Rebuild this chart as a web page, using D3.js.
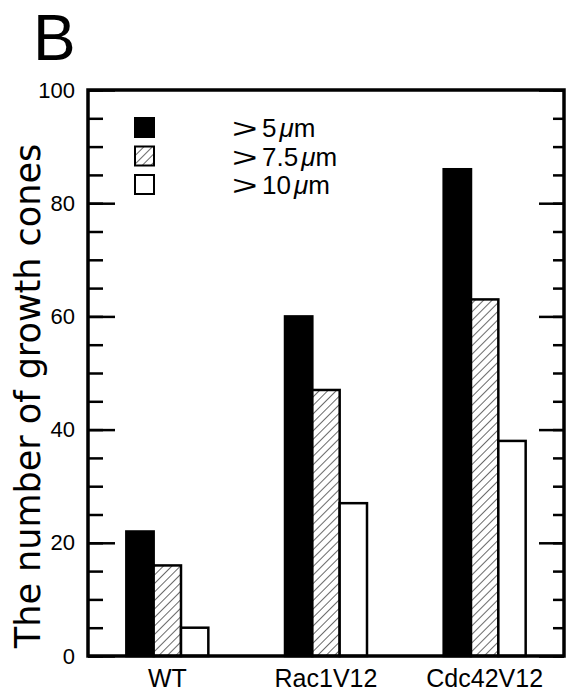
<!DOCTYPE html>
<html>
<head>
<meta charset="utf-8">
<script src="https://cdn.jsdelivr.net/npm/d3@7"></script>
<style>
  body { margin: 0; background: #fff; }
  text { font-family: "Liberation Sans", Arial, sans-serif; fill: #000; }
</style>
</head>
<body>
<script>
(function(){

    //chart data
    var groups = ["WT", "Rac1V12", "Cdc42V12"];
    var seriesKeys = ["gt5", "gt7_5", "gt10"];
    var seriesLabels = ["5", "7.5", "10"];
    var gt5 = [22, 60, 86];
    var gt7_5 = [16, 47, 63];
    var gt10 = [5, 27, 38];
    var majorTicks = [0, 20, 40, 60, 80, 100];

    //frame dimensions
    var width = 567,
        height = 696,
        left = 88,
        right = 564,
        top = 90,
        bottom = 656;

    var svg = d3.select("body")
        .append("svg")
        .attr("width", width)
        .attr("height", height);

    //hatch pattern for the middle series
    var defs = svg.append("defs");
    var pat = defs.append("pattern")
        .attr("id", "hatch")
        .attr("patternUnits", "userSpaceOnUse")
        .attr("width", 6)
        .attr("height", 6)
        .attr("patternTransform", "rotate(45)");
    pat.append("rect").attr("width", 6).attr("height", 6).attr("fill", "#fff");
    pat.append("line")
        .attr("x1", 0).attr("y1", 0).attr("x2", 0).attr("y2", 6)
        .attr("stroke", "#444")
        .attr("stroke-width", 1.6);

    var fills = {gt5: "#000", gt7_5: "url(#hatch)", gt10: "#fff"};

    var rows = groups.map(function(g, i){
        return {group: g, gt5: gt5[i], gt7_5: gt7_5[i], gt10: gt10[i]};
    });

    //scales
    var yScale = d3.scaleLinear()
        .domain([0, 100])
        .range([bottom, top]);

    var x0 = d3.scaleBand()
        .domain(groups)
        .range([left, right])
        .padding(0);

    var x1 = d3.scaleBand()
        .domain(seriesKeys)
        .range([0, 82]);

    //bars
    var grp = svg.selectAll(".group")
        .data(rows)
        .enter()
        .append("g")
        .attr("class", "group")
        .attr("transform", function(d){
            return "translate(" + (x0(d.group) + x0.bandwidth() / 2 - 41) + ",0)";
        });

    grp.selectAll("rect")
        .data(function(d){
            return seriesKeys.map(function(k){ return {key: k, value: d[k]}; });
        })
        .enter()
        .append("rect")
        .attr("x", function(d){ return x1(d.key); })
        .attr("width", x1.bandwidth())
        .attr("y", function(d){ return yScale(d.value); })
        .attr("height", function(d){ return bottom - yScale(d.value); })
        .attr("fill", function(d){ return fills[d.key]; })
        .attr("stroke", "#000")
        .attr("stroke-width", 2.5);

    //left axis, minor then major ticks pointing inward
    svg.append("g")
        .attr("transform", "translate(" + left + ",0)")
        .call(d3.axisLeft(yScale).tickValues(d3.range(0, 101, 5)).tickSize(-15).tickFormat(""))
        .call(function(g){ g.select(".domain").remove(); })
        .selectAll("line").attr("stroke-width", 2.5);

    var yLeft = svg.append("g")
        .attr("transform", "translate(" + left + ",0)")
        .call(d3.axisLeft(yScale).tickValues(majorTicks).tickSize(-27).tickPadding(13));
    yLeft.select(".domain").remove();
    yLeft.selectAll("line").attr("stroke-width", 2.5);
    yLeft.selectAll("text")
        .style("font-size", "22px")
        .attr("fill", "#000");

    //right axis ticks
    svg.append("g")
        .attr("transform", "translate(" + right + ",0)")
        .call(d3.axisRight(yScale).tickValues(d3.range(0, 101, 5)).tickSize(-11).tickFormat(""))
        .call(function(g){ g.select(".domain").remove(); })
        .selectAll("line").attr("stroke-width", 2.5);

    svg.append("g")
        .attr("transform", "translate(" + right + ",0)")
        .call(d3.axisRight(yScale).tickValues(majorTicks).tickSize(-25).tickFormat(""))
        .call(function(g){ g.select(".domain").remove(); })
        .selectAll("line").attr("stroke-width", 2.5);

    //frame
    svg.append("rect")
        .attr("x", left)
        .attr("y", top)
        .attr("width", right - left)
        .attr("height", bottom - top)
        .attr("fill", "none")
        .attr("stroke", "#000")
        .attr("stroke-width", 3.5);

    //x labels
    svg.selectAll(".xlabel")
        .data(groups)
        .enter()
        .append("text")
        .attr("class", "xlabel")
        .attr("x", function(d){ return x0(d) + x0.bandwidth() / 2; })
        .attr("y", 687)
        .attr("text-anchor", "middle")
        .style("font-size", "25px")
        .text(function(d){ return d; });

    //y title
    svg.append("text")
        .attr("transform", "translate(40," + 396 + ") rotate(-90)")
        .attr("text-anchor", "middle")
        .style("font-family", "'DejaVu Sans', sans-serif")
        .style("font-size", "35px")
        .text("The number of growth cones");

    //panel letter
    svg.append("text")
        .attr("x", 33)
        .attr("y", 60)
        .style("font-size", "64px")
        .text("B");

    //legend
    var legend = svg.selectAll(".legend")
        .data(seriesKeys)
        .enter()
        .append("g")
        .attr("class", "legend")
        .attr("transform", function(d, i){ return "translate(135," + (118 + i * 28.5) + ")"; });

    legend.append("rect")
        .attr("width", 19)
        .attr("height", 19)
        .attr("fill", function(d){ return fills[d]; })
        .attr("stroke", "#000")
        .attr("stroke-width", 2);

    //wide chevron sign, stretched sideways
    legend.append("text")
        .attr("transform", "translate(97,20) scale(1.75,1.12)")
        .style("font-size", "25px")
        .text(">");

    var lt = legend.append("text")
        .attr("x", 127)
        .attr("y", 19)
        .style("font-size", "26px");
    lt.append("tspan")
        .text(function(d, i){ return seriesLabels[i]; });
    lt.append("tspan")
        .attr("dx", 3)
        .style("font-style", "italic")
        .text("\u03bc");
    lt.append("tspan")
        .text("m");

})();
</script>
</body>
</html>
